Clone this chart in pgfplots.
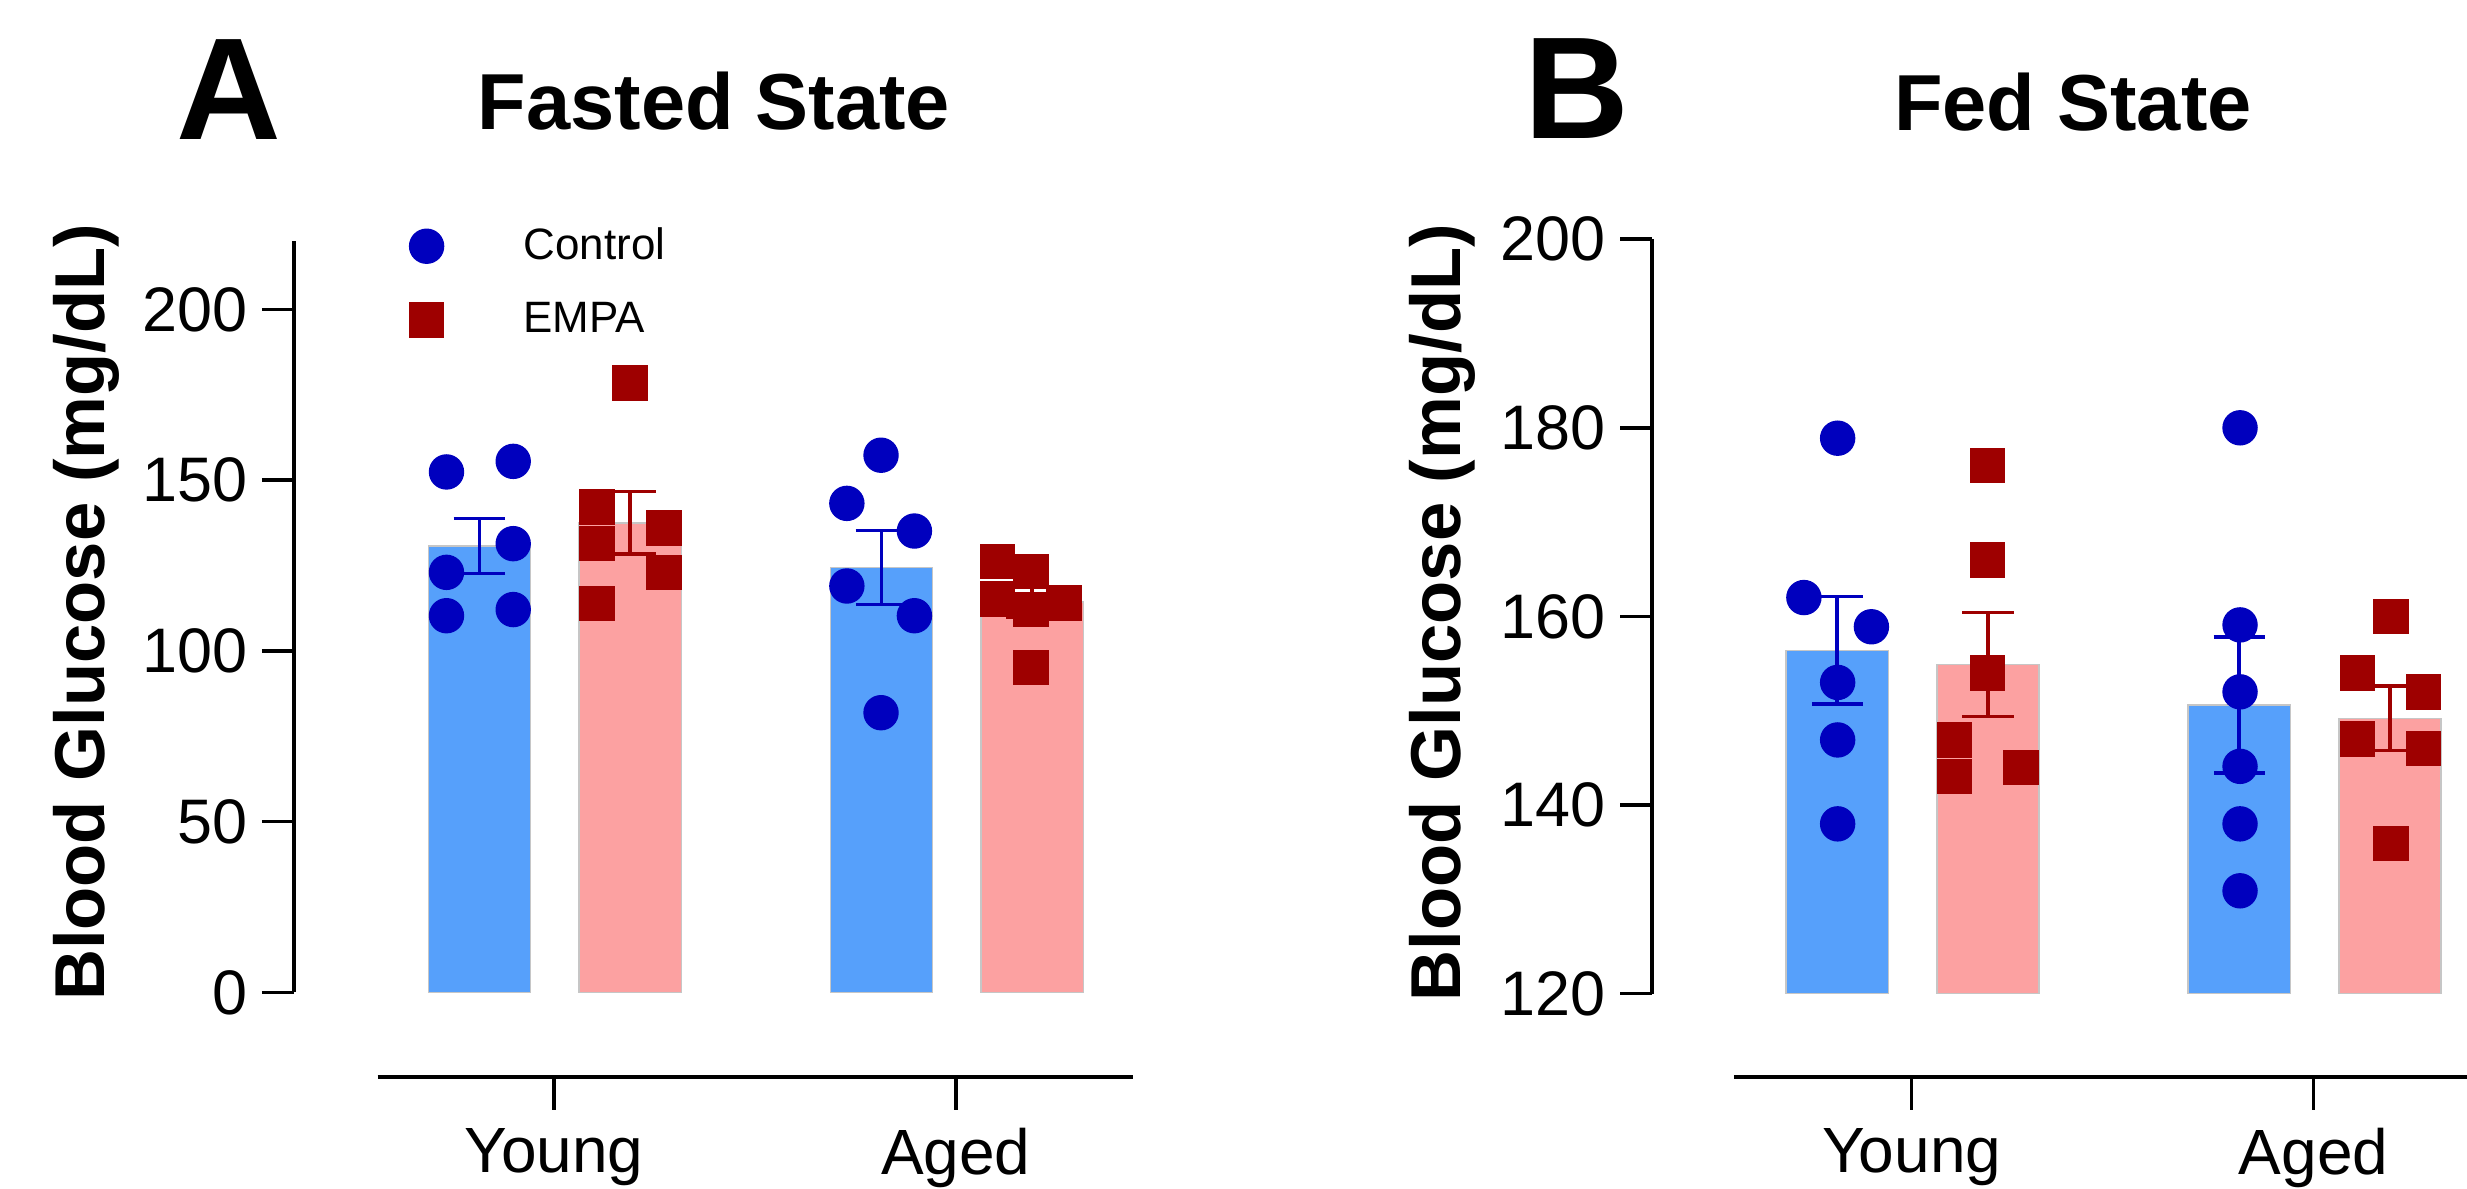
\documentclass[border=0pt]{standalone}
\usepackage{fontspec}
\setmainfont{Liberation Sans}
\usepackage{pgfplots}
\pgfplotsset{compat=1.18}

\definecolor{barblue}{RGB}{86,160,251}
\definecolor{barpink}{RGB}{252,161,161}
\definecolor{dotblue}{RGB}{0,0,190}
\definecolor{dotred}{RGB}{158,0,0}

\pgfplotsset{
  yside/.style={
    scale only axis, anchor=south west,
    axis x line=none, axis y line*=left,
    y axis line style={-, line width=1pt},
    tick align=outside, major tick length=0.32cm,
    tick style={line width=1pt, black},
    /pgf/number format/assume math mode=true,
    yticklabel style={font=\fontsize{17.9}{20}\selectfont, inner sep=0pt, xshift=-0.135cm},
    ylabel={\bfseries Blood Glucose (mg/dL)},
  },
  xside/.style={
    scale only axis, anchor=south west, height=1cm, ymin=0, ymax=1,
    axis y line=none, axis x line*=bottom,
    x axis line style={-, line width=1.2pt},
    xtick={0,1}, xticklabels={Young,Aged},
    tick align=outside, major tick length=0.33cm,
    tick style={line width=1pt, black},
    xticklabel style={font=\fontsize{18.2}{20}\selectfont, inner sep=0pt, yshift=-0.18cm},
  },
  ctrlbar/.style={ybar, bar width=0.254, bar shift=0pt, fill=barblue, draw=gray!45, line width=0.4pt, forget plot,
    error bars/.cd, y dir=both, y explicit, error mark=|,
    error bar style={dotblue, line width=1pt},
    error mark options={dotblue, line width=1pt, mark size=0.257cm}},
  empabar/.style={ybar, bar width=0.254, bar shift=0pt, fill=barpink, draw=gray!45, line width=0.4pt, forget plot,
    error bars/.cd, y dir=both, y explicit, error mark=|,
    error bar style={dotred, line width=1pt},
    error mark options={dotred, line width=1pt, mark size=0.257cm}},
  ctrlpts/.style={only marks, mark=*, mark size=0.17cm, color=dotblue},
  empapts/.style={only marks, mark=square*, mark size=0.17cm, color=dotred},
}

\begin{document}
\begin{tikzpicture}
\useasboundingbox (0,0) rectangle (24.67,11.89);
\clip (0,0) rectangle (24.67,11.89);

% panel labels and titles
\node[anchor=base west, inner sep=0pt, font=\bfseries\fontsize{41.3}{45}\selectfont] at (1.76,10.493) {A};
\node[anchor=base west, inner sep=0pt, font=\bfseries\fontsize{41.3}{45}\selectfont] at (15.24,10.507) {B};
\node[anchor=base, inner sep=0pt, font=\bfseries\fontsize{22.6}{25}\selectfont] at (7.14,10.59) {Fasted State};
\node[anchor=base, inner sep=0pt, font=\bfseries\fontsize{22.6}{25}\selectfont] at (20.73,10.583) {Fed State};

% ---- A: fasted
\begin{axis}[yside, at={(2.94cm,1.966cm)}, width=8.388cm, height=7.513cm,
  xmin=-0.6463, xmax=1.4403, ymin=0, ymax=220, ytick={0,50,...,200},
  every axis y label/.style={at={(rel axis cs:-0.2265,0.5057)}, rotate=90, anchor=base,
    font=\fontsize{20.1}{22}\selectfont},
  legend style={at={(0.137,1.0188)}, anchor=north west, draw=none, fill=none,
    inner sep=0pt, row sep=0.375cm, column sep=0.80cm,
    font=\fontsize{12.5}{14}\selectfont, nodes={inner sep=0pt}},
  legend cell align=left,
  legend image code/.code={\draw[mark repeat=2,mark phase=2,#1] plot coordinates {(0cm,0cm) (0.2cm,0cm) (0.4cm,0cm)};},
]
\addplot[ctrlbar] coordinates {(-0.185,130.7) +- (0,8.0) (0.815,124.4) +- (0,10.8)};
\addplot[empabar] coordinates {(0.19,137.5) +- (0,9.2) (1.19,114.3) +- (0,4.4)};
\addplot[ctrlpts] coordinates {
  (-0.267,152.4) (-0.101,155.5) (-0.101,131.4) (-0.267,123.0) (-0.267,110.3) (-0.101,112.1)
  (0.814,157.3) (0.729,143.2) (0.897,135.1) (0.729,119.0) (0.897,110.3) (0.814,81.9)};
\addplot[empapts] coordinates {
  (0.190,178.4) (0.107,142.1) (0.274,136.0) (0.107,131.4) (0.274,123.0) (0.107,113.8)
  (1.103,126.2) (1.187,123.2) (1.103,115.2) (1.187,112.2) (1.269,114.0) (1.187,95.1)};
\legend{Control, EMPA}
\end{axis}
\begin{axis}[xside, at={(3.776cm,1.123cm)}, width=7.552cm, xmin=-0.4383, xmax=1.4403]
\addplot[draw=none] coordinates {(0,0)};
\end{axis}

% ---- B: fed
\begin{axis}[yside, at={(16.52cm,1.954cm)}, width=8.626cm, height=7.544cm,
  xmin=-0.6458, xmax=1.5, ymin=120, ymax=200, ytick={120,140,...,200},
  every axis y label/.style={at={(rel axis cs:-0.2226,0.505)}, rotate=90, anchor=base,
    font=\fontsize{20.1}{22}\selectfont},
]
\addplot[ctrlbar] coordinates {(-0.185,156.4) +- (0,5.7) (0.815,150.6) +- (0,7.2)};
\addplot[empabar] coordinates {(0.19,154.9) +- (0,5.5) (1.19,149.2) +- (0,3.4)};
\addplot[ctrlpts] coordinates {
  (-0.184,178.9) (-0.268,162.0) (-0.100,158.9) (-0.184,153.0) (-0.184,146.9) (-0.184,138.0)
  (0.817,180.0) (0.817,159.1) (0.817,152.0) (0.817,144.1) (0.817,138.0) (0.817,130.9)};
\addplot[empapts] coordinates {
  (0.189,176.0) (0.189,166.0) (0.189,154.0) (0.106,146.9) (0.106,143.0) (0.272,144.0)
  (1.192,160.0) (1.109,154.0) (1.274,152.0) (1.109,147.0) (1.274,146.0) (1.192,135.9)};
\end{axis}
\begin{axis}[xside, at={(17.338cm,1.123cm)}, width=7.808cm, xmin=-0.4423, xmax=1.5]
\addplot[draw=none] coordinates {(0,0)};
\end{axis}
\end{tikzpicture}
\end{document}
